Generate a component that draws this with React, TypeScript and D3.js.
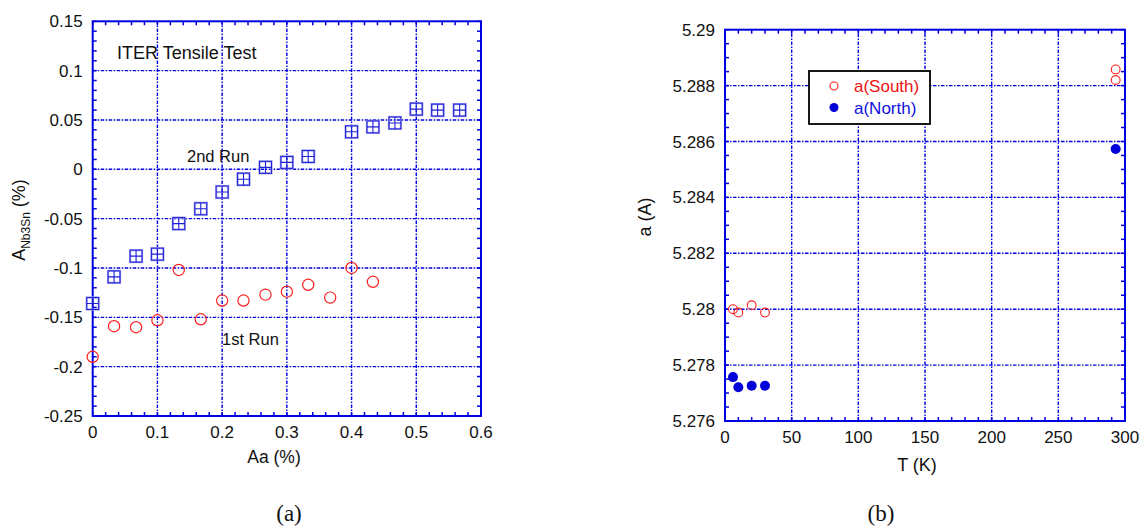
import React, { useEffect, useRef } from 'react';
import * as d3 from 'd3';

// (a) ITER tensile test
const run1X = [0, 0.033, 0.067, 0.1, 0.133, 0.167, 0.2, 0.233, 0.267, 0.3, 0.333, 0.367, 0.4, 0.433];
const run1Y = [-0.19, -0.159, -0.16, -0.153, -0.102, -0.152, -0.133, -0.133, -0.127, -0.124, -0.117, -0.13, -0.1, -0.114];
const run2X = [0, 0.033, 0.067, 0.1, 0.133, 0.167, 0.2, 0.233, 0.267, 0.3, 0.333, 0.4, 0.433, 0.467, 0.5, 0.533, 0.567];
const run2Y = [-0.136, -0.109, -0.088, -0.086, -0.055, -0.04, -0.023, -0.01, 0.002, 0.007, 0.013, 0.038, 0.043, 0.047, 0.061, 0.06, 0.06];
const aXTicks = [0, 0.1, 0.2, 0.3, 0.4, 0.5, 0.6];
const aYTicks = [-0.25, -0.2, -0.15, -0.1, -0.05, 0, 0.05, 0.1, 0.15];

// (b) lattice parameter vs temperature
const southT = [6, 10, 20, 30, 293, 293];
const southA = [5.28, 5.27988, 5.28014, 5.27988, 5.28858, 5.2882];
const northT = [6, 10, 20, 30, 293];
const northA = [5.27757, 5.27721, 5.27726, 5.27726, 5.28573];
const bXTicks = [0, 50, 100, 150, 200, 250, 300];
const bYTicks = [5.276, 5.278, 5.28, 5.282, 5.284, 5.286, 5.288, 5.29];

const BLUE = '#0000e0';
const FONT = 'Arial, "Liberation Sans", Helvetica, sans-serif';

function drawFrame(g, x, y, xTicks, yTicks, xMinor, yMinor, fmtX, fmtY) {
  const [x0, x1] = x.range();
  const [y0, y1] = y.range(); // y0 bottom, y1 top

  // grid
  const dash = '3.5,1.5,1.5,1.5';
  xTicks.slice(1, -1).forEach(v => {
    g.append('line').attr('x1', x(v)).attr('x2', x(v)).attr('y1', y0).attr('y2', y1)
      .attr('stroke', BLUE).attr('stroke-width', 1.4).attr('stroke-dasharray', dash);
  });
  yTicks.slice(1, -1).forEach(v => {
    g.append('line').attr('x1', x0).attr('x2', x1).attr('y1', y(v)).attr('y2', y(v))
      .attr('stroke', BLUE).attr('stroke-width', 1.4).attr('stroke-dasharray', dash);
  });

  // ticks, inward on all sides
  const [dx0, dx1] = x.domain();
  const [dy0, dy1] = y.domain();
  const nx = Math.round((dx1 - dx0) / xMinor);
  const ny = Math.round((dy1 - dy0) / yMinor);
  d3.range(nx + 1).forEach(i => {
    const px = x(dx0 + i * xMinor);
    g.append('line').attr('x1', px).attr('x2', px).attr('y1', y0).attr('y2', y0 - 4)
      .attr('stroke', BLUE).attr('stroke-width', 1.5);
    g.append('line').attr('x1', px).attr('x2', px).attr('y1', y1).attr('y2', y1 + 4)
      .attr('stroke', BLUE).attr('stroke-width', 1.5);
  });
  d3.range(ny + 1).forEach(i => {
    const py = y(dy0 + i * yMinor);
    g.append('line').attr('x1', x0).attr('x2', x0 + 4).attr('y1', py).attr('y2', py)
      .attr('stroke', BLUE).attr('stroke-width', 1.5);
    g.append('line').attr('x1', x1).attr('x2', x1 - 4).attr('y1', py).attr('y2', py)
      .attr('stroke', BLUE).attr('stroke-width', 1.5);
  });

  g.append('rect').attr('x', x0).attr('y', y1).attr('width', x1 - x0).attr('height', y0 - y1)
    .attr('fill', 'none').attr('stroke', BLUE).attr('stroke-width', 2);

  // tick labels
  g.selectAll(null).data(xTicks).enter().append('text')
    .attr('x', d => x(d)).attr('y', y0 + 22)
    .attr('text-anchor', 'middle').attr('font-family', FONT).attr('font-size', 17).attr('fill', '#111')
    .text(fmtX);
  g.selectAll(null).data(yTicks).enter().append('text')
    .attr('x', x0 - 10).attr('y', d => y(d) + 6)
    .attr('text-anchor', 'end').attr('font-family', FONT).attr('font-size', 17).attr('fill', '#111')
    .text(fmtY);
}

export default function App() {
  const ref = useRef(null);

  useEffect(() => {
    const svg = d3.select(ref.current);
    svg.selectAll('*').remove();

    // ---------- panel (a)
    const xa = d3.scaleLinear().domain([0, 0.6]).range([92.7, 481]);
    const ya = d3.scaleLinear().domain([-0.25, 0.15]).range([416, 21.3]);
    const ga = svg.append('g');
    drawFrame(ga, xa, ya, aXTicks, aYTicks, 0.02, 0.01,
      d => String(+d.toFixed(1)), d => String(+d.toFixed(2)));

    // 1st run: open red circles
    ga.selectAll(null).data(d3.zip(run1X, run1Y)).enter().append('circle')
      .attr('cx', d => xa(d[0])).attr('cy', d => ya(d[1])).attr('r', 5.6)
      .attr('fill', 'none').attr('stroke', '#ff2020').attr('stroke-width', 1.2);

    // 2nd run: squares with cross
    const sq = ga.selectAll(null).data(d3.zip(run2X, run2Y)).enter().append('g')
      .attr('transform', d => `translate(${xa(d[0])},${ya(d[1])})`);
    sq.append('rect').attr('x', -6).attr('y', -6).attr('width', 12).attr('height', 12)
      .attr('fill', 'none').attr('stroke', '#a4a4f2').attr('stroke-width', 2.2);
    sq.append('rect').attr('x', -6).attr('y', -6).attr('width', 12).attr('height', 12)
      .attr('fill', 'none').attr('stroke', '#2020d4').attr('stroke-width', 1);
    sq.append('path').attr('d', 'M-6,0H6M0,-6V6')
      .attr('stroke', '#2020d4').attr('stroke-width', 1.1);

    ga.append('text').attr('x', 117).attr('y', 59).attr('font-family', FONT).attr('font-size', 18)
      .attr('fill', '#111').text('ITER Tensile Test');
    ga.append('text').attr('x', 187).attr('y', 162).attr('font-family', FONT).attr('font-size', 16.5)
      .attr('fill', '#111').text('2nd Run');
    ga.append('text').attr('x', 222).attr('y', 345).attr('font-family', FONT).attr('font-size', 16.5)
      .attr('fill', '#111').text('1st Run');

    ga.append('text').attr('x', 274).attr('y', 463).attr('text-anchor', 'middle')
      .attr('font-family', FONT).attr('font-size', 17.5).attr('fill', '#111').text('Aa (%)');

    const yl = ga.append('text').attr('transform', 'translate(25,220) rotate(-90)')
      .attr('text-anchor', 'middle').attr('font-family', FONT).attr('fill', '#111');
    yl.append('tspan').attr('font-size', 18).text('A');
    yl.append('tspan').attr('font-size', 12).attr('dy', 5).text('Nb3Sn');
    yl.append('tspan').attr('font-size', 18).attr('dy', -5).text(' (%)');

    svg.append('text').attr('x', 289).attr('y', 521).attr('text-anchor', 'middle')
      .attr('font-family', '"Times New Roman", "Liberation Serif", serif').attr('font-size', 23)
      .attr('fill', '#111').text('(a)');

    // ---------- panel (b)
    const xb = d3.scaleLinear().domain([0, 300]).range([725, 1125]);
    const yb = d3.scaleLinear().domain([5.276, 5.29]).range([421, 29.7]);
    const gb = svg.append('g');
    drawFrame(gb, xb, yb, bXTicks, bYTicks, 10, 0.0005,
      d => String(d), d => String(+d.toFixed(3)));

    gb.selectAll(null).data(d3.zip(southT, southA)).enter().append('circle')
      .attr('cx', d => xb(d[0])).attr('cy', d => yb(d[1])).attr('r', 4.4)
      .attr('fill', 'none').attr('stroke', '#ff2020').attr('stroke-width', 1.1);
    gb.selectAll(null).data(d3.zip(northT, northA)).enter().append('circle')
      .attr('cx', d => xb(d[0])).attr('cy', d => yb(d[1])).attr('r', 5)
      .attr('fill', '#0000d8');

    // legend
    const lg = gb.append('g');
    lg.append('rect').attr('x', 809).attr('y', 71).attr('width', 121).attr('height', 53)
      .attr('fill', '#fff').attr('stroke', '#000').attr('stroke-width', 1.8);
    lg.append('circle').attr('cx', 834).attr('cy', 86).attr('r', 4)
      .attr('fill', 'none').attr('stroke', '#ff2020').attr('stroke-width', 1.1);
    lg.append('circle').attr('cx', 834).attr('cy', 107.5).attr('r', 4.5).attr('fill', '#0000d8');
    lg.append('text').attr('x', 854).attr('y', 92).attr('font-family', FONT).attr('font-size', 17)
      .attr('fill', '#ee1111').text('a(South)');
    lg.append('text').attr('x', 854).attr('y', 114).attr('font-family', FONT).attr('font-size', 17)
      .attr('fill', '#1010dd').text('a(North)');

    gb.append('text').attr('x', 917).attr('y', 471).attr('text-anchor', 'middle')
      .attr('font-family', FONT).attr('font-size', 18).attr('fill', '#111').text('T (K)');
    gb.append('text').attr('transform', 'translate(651,217) rotate(-90)')
      .attr('text-anchor', 'middle').attr('font-family', FONT).attr('font-size', 18)
      .attr('fill', '#111').text('a (A)');

    svg.append('text').attr('x', 881).attr('y', 521).attr('text-anchor', 'middle')
      .attr('font-family', '"Times New Roman", "Liberation Serif", serif').attr('font-size', 23)
      .attr('fill', '#111').text('(b)');
  }, []);

  return (
    <svg ref={ref} width={1147} height={530}
      style={{ position: 'absolute', left: 0, top: 0, background: '#fff' }} />
  );
}
